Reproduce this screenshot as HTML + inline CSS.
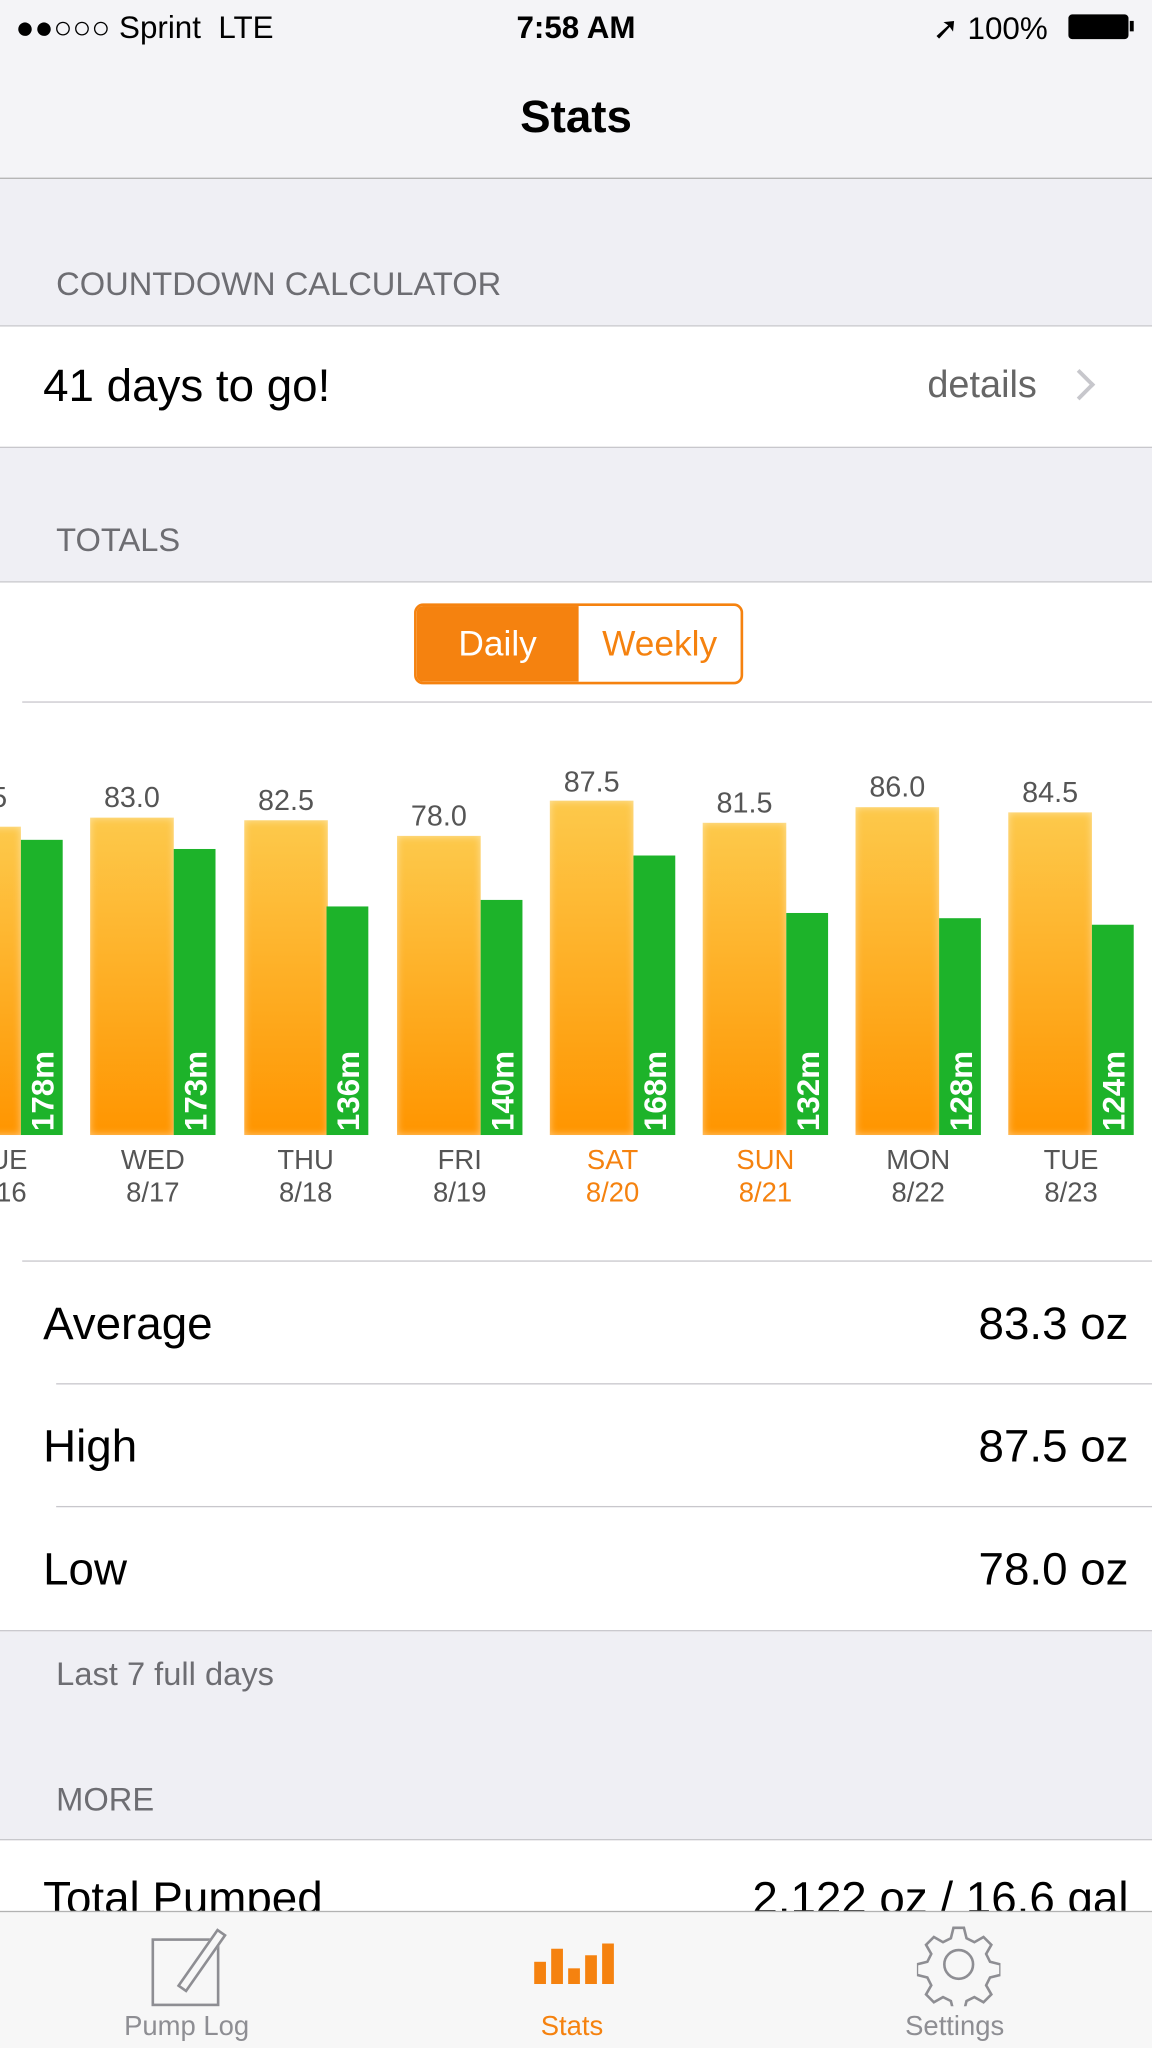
<!DOCTYPE html>
<html><head><meta charset="utf-8"><style>
html,body{margin:0;padding:0;width:1152px;height:2048px;overflow:hidden;background:#efeff4;}
#w{position:absolute;left:0;top:0;width:882px;height:1568px;transform:scale(1.306122);transform-origin:0 0;font-family:"Liberation Sans",sans-serif;background:#efeff4;overflow:hidden;}
.a{position:absolute;white-space:nowrap;}
.hdr{color:#6d6d72;font-size:25px;left:43px;}
.white{position:absolute;left:0;width:882px;background:#fff;}
.ln{position:absolute;height:1px;background:#c8c7cc;}
.o{position:absolute;width:64px;background:linear-gradient(#fdc94b,#ff9500);box-shadow:inset 0 0 6px rgba(255,255,255,.5);}
.g{position:absolute;width:32px;background:#1db32a;}
.gl{position:absolute;color:#fff;font-weight:bold;font-size:24px;transform:rotate(-90deg);transform-origin:0 0;white-space:nowrap;}
.v{position:absolute;width:64px;text-align:center;color:#555;font-size:22px;}
.d{position:absolute;width:96px;text-align:center;color:#555;font-size:21px;line-height:25px;}
.big{font-size:35px;color:#000;}
</style></head><body><div id="w">
<div class="a" style="left:0;top:0;width:882px;height:136px;background:#f4f4f7;border-bottom:1px solid #b2b2b2;"></div>
<div class="a" style="left:12px;top:8px;font-size:24px;">●●○○○ Sprint&nbsp;&nbsp;LTE</div>
<div class="a" style="left:0;width:882px;text-align:center;top:8px;font-size:24px;font-weight:bold;">7:58 AM</div>
<div class="a" style="left:714px;top:8px;font-size:24px;">➚ 100%</div>
<div class="a" style="left:818px;top:11px;width:46px;height:19px;background:#000;border-radius:3px;"></div>
<div class="a" style="left:865px;top:16px;width:3px;height:8px;background:#000;"></div>
<div class="a" style="left:0;width:882px;text-align:center;top:70px;font-size:35px;font-weight:bold;">Stats</div>

<div class="a hdr" style="top:204px;">COUNTDOWN CALCULATOR</div>
<div class="white" style="top:249px;height:92px;border-top:1px solid #c8c7cc;border-bottom:1px solid #c8c7cc;"></div>
<div class="a big" style="left:33px;top:276px;">41 days to go!</div>
<div class="a" style="left:710px;top:279px;font-size:29px;color:#666;">details</div>
<div class="a" style="left:818px;top:286px;width:14px;height:14px;border-right:3px solid #c7c7cc;border-top:3px solid #c7c7cc;transform:rotate(45deg);"></div>

<div class="a hdr" style="top:400px;">TOTALS</div>
<div class="white" style="top:445px;height:802px;border-top:1px solid #c8c7cc;border-bottom:1px solid #c8c7cc;"></div>
<div class="a" style="left:317px;top:462px;width:248px;height:58px;border:2px solid #f5820f;border-radius:7px;background:#fff;overflow:hidden;">
<div style="position:absolute;left:0;top:0;width:124px;height:58px;background:#f5820f;color:#fff;font-size:27px;text-align:center;line-height:58px;">Daily</div>
<div style="position:absolute;left:124px;top:0;width:124px;height:58px;color:#f5820f;font-size:27px;text-align:center;line-height:58px;">Weekly</div></div>
<div class="ln" style="left:17px;top:537px;width:865px;"></div>

<div class="o" style="left:-48px;top:633px;height:236px;"></div><div class="g" style="left:16px;top:643px;height:226px;"></div><div class="v" style="left:-48px;top:598px;">84.5</div><div class="gl" style="left:20px;top:866px;">178m</div><div class="d" style="left:-48px;top:876px;">TUE<br>8/16</div>

<div class="o" style="left:69px;top:626px;height:243px;"></div><div class="g" style="left:133px;top:650px;height:219px;"></div><div class="v" style="left:69px;top:598px;">83.0</div><div class="gl" style="left:137px;top:866px;">173m</div><div class="d" style="left:69px;top:876px;">WED<br>8/17</div>

<div class="o" style="left:187px;top:628px;height:241px;"></div><div class="g" style="left:250px;top:694px;height:175px;"></div><div class="v" style="left:187px;top:600px;">82.5</div><div class="gl" style="left:254px;top:866px;">136m</div><div class="d" style="left:186px;top:876px;">THU<br>8/18</div>

<div class="o" style="left:304px;top:640px;height:229px;"></div><div class="g" style="left:368px;top:689px;height:180px;"></div><div class="v" style="left:304px;top:612px;">78.0</div><div class="gl" style="left:372px;top:866px;">140m</div><div class="d" style="left:304px;top:876px;">FRI<br>8/19</div>

<div class="o" style="left:421px;top:613px;height:256px;"></div><div class="g" style="left:485px;top:655px;height:214px;"></div><div class="v" style="left:421px;top:586px;">87.5</div><div class="gl" style="left:489px;top:866px;">168m</div><div class="d" style="left:421px;top:876px;color:#f5820f;">SAT<br>8/20</div>

<div class="o" style="left:538px;top:630px;height:239px;"></div><div class="g" style="left:602px;top:699px;height:170px;"></div><div class="v" style="left:538px;top:602px;">81.5</div><div class="gl" style="left:606px;top:866px;">132m</div><div class="d" style="left:538px;top:876px;color:#f5820f;">SUN<br>8/21</div>

<div class="o" style="left:655px;top:618px;height:251px;"></div><div class="g" style="left:719px;top:703px;height:166px;"></div><div class="v" style="left:655px;top:590px;">86.0</div><div class="gl" style="left:723px;top:866px;">128m</div><div class="d" style="left:655px;top:876px;">MON<br>8/22</div>

<div class="o" style="left:772px;top:622px;height:247px;"></div><div class="g" style="left:836px;top:708px;height:161px;"></div><div class="v" style="left:772px;top:594px;">84.5</div><div class="gl" style="left:840px;top:866px;">124m</div><div class="d" style="left:772px;top:876px;">TUE<br>8/23</div>

<div class="ln" style="left:17px;top:965px;width:865px;"></div>
<div class="a big" style="left:33px;top:994px;">Average</div><div class="a big" style="right:18px;top:994px;">83.3 oz</div>
<div class="ln" style="left:43px;top:1059px;width:839px;"></div>
<div class="a big" style="left:33px;top:1088px;">High</div><div class="a big" style="right:18px;top:1088px;">87.5 oz</div>
<div class="ln" style="left:43px;top:1153px;width:839px;"></div>
<div class="a big" style="left:33px;top:1182px;">Low</div><div class="a big" style="right:18px;top:1182px;">78.0 oz</div>

<div class="a hdr" style="top:1268px;">Last 7 full days</div>
<div class="a hdr" style="top:1364px;">MORE</div>
<div class="white" style="top:1408px;height:160px;border-top:1px solid #c8c7cc;"></div>
<div class="a big" style="left:33px;top:1434px;">Total Pumped</div><div class="a big" style="right:18px;top:1434px;">2,122 oz / 16.6 gal</div>

<div class="a" style="left:0;top:1463px;width:882px;height:105px;background:#f7f7f7;border-top:1px solid #b2b2b2;"></div>
<div class="a" style="left:116px;top:1484px;width:48px;height:48px;border:2px solid #8e8e93;"></div>
<div class="a" style="left:150px;top:1474px;width:5px;height:50px;border:2px solid #8e8e93;background:#f7f7f7;transform:rotate(35deg);"></div>
<div class="a" style="left:95px;top:1540px;font-size:21px;color:#8e8e93;">Pump Log</div>
<div class="a" style="left:409px;top:1502px;width:9px;height:17px;background:#f5820f;"></div>
<div class="a" style="left:422px;top:1492px;width:9px;height:27px;background:#f5820f;"></div>
<div class="a" style="left:435px;top:1507px;width:9px;height:12px;background:#f5820f;"></div>
<div class="a" style="left:448px;top:1497px;width:9px;height:22px;background:#f5820f;"></div>
<div class="a" style="left:461px;top:1488px;width:9px;height:31px;background:#f5820f;"></div>
<div class="a" style="left:414px;top:1540px;font-size:21px;color:#f5820f;">Stats</div>
<svg class="a" style="left:702px;top:1472px;" width="64" height="64" viewBox="0 0 64 64"><g fill="none" stroke="#8e8e93" stroke-width="2"><circle cx="32" cy="32" r="11"/><path d="M28 4h8l2 8 6 3 7-4 6 6-4 7 3 6 8 2v8l-8 2-3 6 4 7-6 6-7-4-6 3-2 8h-8l-2-8-6-3-7 4-6-6 4-7-3-6-8-2v-8l8-2 3-6-4-7 6-6 7 4 6-3z"/></g></svg>
<div class="a" style="left:693px;top:1540px;font-size:21px;color:#8e8e93;">Settings</div>
</div></body></html>
